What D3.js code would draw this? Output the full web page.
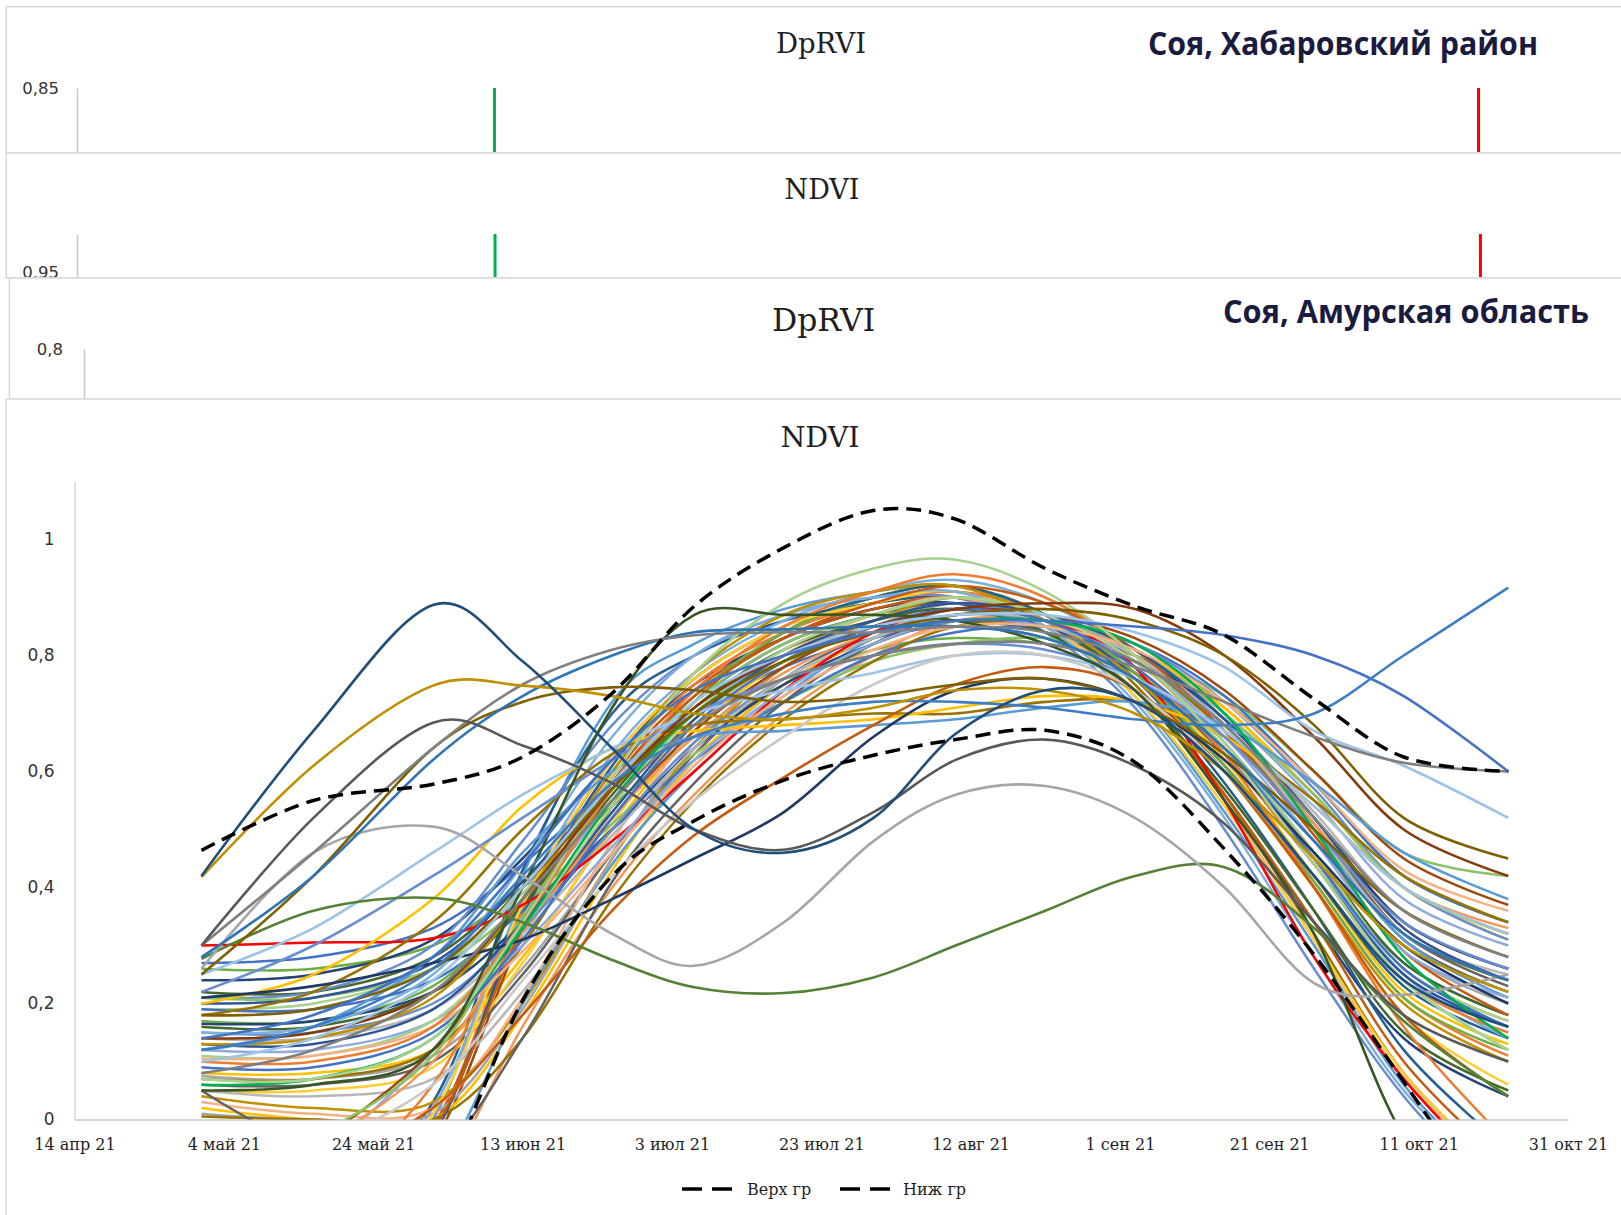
<!DOCTYPE html>
<html><head><meta charset="utf-8">
<script src="https://cdn.jsdelivr.net/npm/d3@7"></script>
<style>body{margin:0;background:#fff}svg{display:block}</style>
</head><body>
<svg id="c" width="1621" height="1215"></svg>
<script>
// ---------- DATA ----------
const sampleDates = ["2021-05-01","2021-05-16","2021-06-01","2021-06-13","2021-06-25","2021-07-06","2021-07-18","2021-07-30","2021-08-10","2021-08-22","2021-09-03","2021-09-15","2021-09-27","2021-10-09","2021-10-23"];
const tickDates = ["2021-04-14","2021-05-04","2021-05-24","2021-06-13","2021-07-03","2021-07-23","2021-08-12","2021-09-01","2021-09-21","2021-10-11","2021-10-31"];
const tickLabels = ["14 апр 21","4 май 21","24 май 21","13 июн 21","3 июл 21","23 июл 21","12 авг 21","1 сен 21","21 сен 21","11 окт 21","31 окт 21"];
const yTicks = [0,0.2,0.4,0.6,0.8,1];
const legendNames = ["Верх гр","Ниж гр"];

const upperBound = [0.464,0.55,0.578,0.625,0.735,0.885,0.986,1.05,1.035,0.95,0.885,0.835,0.725,0.625,0.60];
const lowerBound = [-0.6,-0.45,-0.14,0.205,0.42,0.515,0.585,0.628,0.655,0.671,0.616,0.466,0.284,0.065,-0.2];

const navyPeak     = [0.42,0.67,0.887,0.79,0.64,0.50,0.46,0.52,0.665,0.74,0.72,0.60,0.42,0.24,0.16];
const goldPlateau  = [0.418,0.61,0.748,0.748,0.73,0.70,0.69,0.71,0.74,0.74,0.70,0.60,0.45,0.30,0.22];
const darkGrayHump = [0.30,0.52,0.684,0.645,0.58,0.50,0.465,0.53,0.62,0.655,0.61,0.51,0.34,0.18,0.10];
const grayHigh     = [0.30,0.46,0.64,0.75,0.81,0.835,0.84,0.84,0.85,0.84,0.79,0.68,0.52,0.36,0.28];
const blueHigh     = [0.28,0.42,0.62,0.73,0.80,0.84,0.845,0.85,0.85,0.83,0.76,0.64,0.48,0.32,0.24];
const olivePlateau = [0.25,0.42,0.64,0.72,0.745,0.74,0.72,0.73,0.75,0.76,0.72,0.63,0.50,0.36,0.28];
const lightGrayDip = [0.26,0.46,0.505,0.42,0.32,0.265,0.34,0.48,0.56,0.575,0.52,0.40,0.235,0.215,0.25];
const greenLow     = [0.277,0.36,0.382,0.34,0.275,0.228,0.218,0.245,0.30,0.36,0.42,0.435,0.33,0.17,0.04];
const navyLow      = [0.21,0.23,0.27,0.31,0.38,0.45,0.53,0.66,0.74,0.76,0.72,0.62,0.46,0.30,0.20];
const brownLate    = [-0.1,-0.08,0.02,0.18,0.36,0.49,0.59,0.68,0.75,0.78,0.74,0.60,0.40,0.18,0.04];
const lightGrayLate= [-0.05,-0.04,0.06,0.24,0.42,0.55,0.66,0.75,0.80,0.80,0.74,0.60,0.42,0.24,0.12];
const brownHigh    = [0.14,0.15,0.22,0.38,0.57,0.71,0.80,0.85,0.88,0.89,0.88,0.80,0.66,0.50,0.42];
const oliveHigh    = [0.18,0.19,0.26,0.40,0.57,0.70,0.79,0.84,0.87,0.88,0.86,0.80,0.68,0.52,0.45];
const blueRise     = [0.12,0.16,0.26,0.42,0.58,0.66,0.70,0.72,0.72,0.71,0.69,0.68,0.70,0.80,0.917];
const grayEnd      = [0.08,0.12,0.22,0.38,0.55,0.68,0.76,0.80,0.82,0.82,0.78,0.72,0.66,0.615,0.60];
const blueEnd      = [0.14,0.18,0.28,0.44,0.62,0.74,0.80,0.84,0.86,0.86,0.85,0.835,0.80,0.73,0.60];
const lightBlueEnd = [0.10,0.14,0.24,0.40,0.58,0.72,0.80,0.85,0.87,0.87,0.84,0.78,0.67,0.61,0.52];
const redField     = [0.30,0.305,0.3125,0.37,0.48,0.60,0.74,0.84,0.88,0.86,0.78,0.55,0.28,0.07,-0.12];
const greenSteep   = [0.05,0.06,0.12,0.40,0.71,0.87,0.87,0.87,0.86,0.82,0.74,0.55,0.32,-0.03,-0.25];
const greenBright  = [0.06,0.07,0.14,0.33,0.55,0.70,0.79,0.84,0.86,0.86,0.82,0.70,0.50,0.28,0.14];
const lightGreenTop= [0.07,0.07,0.14,0.34,0.59,0.77,0.89,0.95,0.965,0.91,0.80,0.64,0.44,0.24,0.12];
const olivePlat2   = [0.18,0.22,0.34,0.50,0.63,0.68,0.69,0.70,0.70,0.72,0.72,0.66,0.55,0.42,0.34];
const goldPlat     = [0.20,0.25,0.38,0.54,0.64,0.67,0.68,0.69,0.71,0.73,0.72,0.66,0.54,0.40,0.32];
const lightBluePlat= [0.12,0.16,0.28,0.46,0.60,0.66,0.67,0.68,0.69,0.71,0.72,0.68,0.58,0.46,0.38];
const blueLinear   = [0.22,0.30,0.42,0.52,0.62,0.70,0.76,0.80,0.82,0.81,0.76,0.66,0.50,0.34,0.26];
const paleBlueLin  = [0.25,0.33,0.46,0.56,0.64,0.70,0.74,0.77,0.80,0.80,0.76,0.67,0.54,0.40,0.32];

// fields starting at higher NDVI, gradual rise
const fieldsUpper = [
 [0.27,0.28,0.33,0.44,0.58,0.70,0.78,0.83,0.85,0.83,0.76,0.63,0.45,0.27,0.18],
 [0.26,0.26,0.30,0.40,0.54,0.66,0.75,0.81,0.83,0.82,0.79,0.72,0.58,0.42,0.34],
 [0.24,0.25,0.31,0.45,0.62,0.75,0.83,0.88,0.89,0.84,0.74,0.56,0.34,0.14,0.04],
 [0.22,0.22,0.28,0.41,0.57,0.70,0.79,0.84,0.86,0.84,0.77,0.64,0.46,0.27,0.18],
 [0.21,0.22,0.30,0.48,0.68,0.80,0.87,0.90,0.90,0.84,0.71,0.50,0.26,0.04,-0.15],
 [0.21,0.21,0.26,0.37,0.51,0.63,0.72,0.79,0.82,0.83,0.80,0.73,0.60,0.46,0.42],
 [0.20,0.21,0.27,0.41,0.58,0.72,0.82,0.87,0.89,0.85,0.77,0.63,0.44,0.25,0.16],
 [0.19,0.20,0.26,0.39,0.55,0.69,0.79,0.85,0.88,0.86,0.80,0.68,0.50,0.32,0.24],
 [0.19,0.19,0.24,0.36,0.50,0.62,0.72,0.80,0.84,0.85,0.82,0.73,0.58,0.42,0.34],
 [0.17,0.17,0.23,0.38,0.57,0.73,0.84,0.90,0.92,0.87,0.77,0.61,0.41,0.21,0.12],
 [0.165,0.17,0.22,0.34,0.50,0.64,0.75,0.82,0.86,0.85,0.80,0.69,0.52,0.34,0.26],
 [0.16,0.16,0.22,0.37,0.56,0.71,0.81,0.86,0.88,0.84,0.74,0.57,0.36,0.15,0.05],
 [0.15,0.15,0.20,0.33,0.50,0.65,0.76,0.83,0.87,0.86,0.82,0.72,0.57,0.40,0.31],
 [0.15,0.16,0.25,0.44,0.66,0.80,0.87,0.90,0.91,0.85,0.72,0.52,0.28,0.05,-0.12],
 [0.14,0.14,0.19,0.32,0.49,0.64,0.76,0.83,0.87,0.86,0.80,0.68,0.50,0.32,0.25],
 [0.13,0.13,0.19,0.34,0.53,0.69,0.80,0.86,0.89,0.87,0.81,0.69,0.52,0.33,0.24],
 [0.13,0.14,0.21,0.38,0.60,0.77,0.87,0.91,0.92,0.86,0.76,0.60,0.40,0.20,0.10],
 [0.12,0.12,0.17,0.30,0.47,0.62,0.74,0.82,0.86,0.85,0.79,0.66,0.48,0.29,0.21],
 [0.11,0.11,0.17,0.33,0.54,0.70,0.81,0.87,0.90,0.87,0.79,0.65,0.46,0.26,0.17],
 [0.105,0.11,0.16,0.29,0.46,0.61,0.73,0.81,0.85,0.85,0.81,0.72,0.58,0.43,0.36],
 [0.10,0.10,0.16,0.34,0.57,0.74,0.85,0.91,0.94,0.90,0.80,0.63,0.40,0.16,-0.04],
 [0.09,0.09,0.15,0.31,0.52,0.68,0.79,0.85,0.88,0.86,0.78,0.64,0.45,0.26,0.16]
];
// fields starting near zero, flat in May
const fieldsLow = [
 [0.08,0.08,0.12,0.28,0.50,0.67,0.79,0.86,0.89,0.86,0.77,0.62,0.42,0.22,0.13],
 [0.075,0.07,0.11,0.26,0.46,0.62,0.75,0.83,0.87,0.86,0.81,0.71,0.56,0.40,0.32],
 [0.07,0.07,0.12,0.30,0.54,0.72,0.84,0.90,0.92,0.87,0.75,0.56,0.32,0.08,-0.1],
 [0.06,0.06,0.10,0.25,0.46,0.63,0.76,0.84,0.88,0.86,0.80,0.68,0.50,0.31,0.22],
 [0.05,0.05,0.09,0.27,0.51,0.69,0.81,0.87,0.90,0.86,0.76,0.60,0.40,0.18,0.06],
 [0.05,0.04,0.07,0.22,0.44,0.61,0.74,0.82,0.86,0.85,0.80,0.69,0.53,0.36,0.28],
 [0.04,0.02,0.03,0.20,0.45,0.64,0.78,0.86,0.90,0.87,0.79,0.65,0.46,0.26,0.17],
 [0.03,0.01,0.02,0.21,0.48,0.67,0.80,0.87,0.90,0.85,0.74,0.55,0.31,0.07,-0.1],
 [0.02,0.00,0.00,0.18,0.43,0.62,0.75,0.83,0.87,0.86,0.81,0.71,0.56,0.40,0.31],
 [0.01,0.00,0.01,0.19,0.45,0.65,0.78,0.85,0.89,0.87,0.80,0.67,0.49,0.29,0.20],
 [0.005,0.00,0.00,0.14,0.38,0.55,0.69,0.79,0.85,0.85,0.79,0.67,0.50,0.32,0.24],
 [0.05,-0.05,-0.06,0.14,0.41,0.58,0.72,0.82,0.87,0.86,0.80,0.68,0.51,0.32,0.23]
];
// fields emerging late (below zero in May), steep rise in June
const fieldsLate = [
 [-0.2,-0.25,-0.02,0.36,0.62,0.76,0.85,0.89,0.91,0.87,0.77,0.61,0.41,0.21,0.11],
 [-0.15,-0.2,0.0,0.42,0.72,0.82,0.88,0.91,0.92,0.86,0.73,0.53,0.30,0.06,-0.12],
 [-0.2,-0.22,-0.04,0.32,0.58,0.73,0.83,0.88,0.90,0.87,0.80,0.68,0.52,0.34,0.26],
 [-0.1,-0.15,0.03,0.43,0.70,0.80,0.86,0.89,0.90,0.85,0.76,0.61,0.42,0.23,0.14],
 [-0.3,-0.3,-0.12,0.16,0.40,0.56,0.70,0.80,0.86,0.86,0.81,0.71,0.56,0.40,0.33],
 [-0.2,-0.2,0.02,0.38,0.63,0.77,0.86,0.91,0.93,0.89,0.80,0.65,0.45,0.25,0.14],
 [-0.15,-0.18,-0.01,0.34,0.59,0.74,0.83,0.88,0.90,0.85,0.74,0.56,0.34,0.10,-0.08],
 [-0.1,-0.06,0.12,0.35,0.55,0.70,0.80,0.86,0.89,0.87,0.81,0.70,0.55,0.38,0.30],
 [-0.1,-0.12,0.06,0.36,0.60,0.75,0.84,0.89,0.91,0.87,0.78,0.63,0.44,0.24,0.15],
 [-0.3,-0.3,-0.1,0.20,0.44,0.60,0.73,0.83,0.88,0.87,0.81,0.68,0.50,0.31,0.21],
 [-0.12,-0.04,0.12,0.33,0.52,0.67,0.78,0.85,0.88,0.87,0.83,0.74,0.60,0.45,0.37],
 [-0.2,-0.24,-0.03,0.35,0.61,0.76,0.85,0.90,0.92,0.87,0.76,0.58,0.36,0.12,-0.05],
 [-0.15,-0.05,0.10,0.32,0.52,0.66,0.77,0.84,0.88,0.86,0.80,0.68,0.51,0.33,0.24],
 [-0.15,-0.17,0.01,0.37,0.62,0.76,0.85,0.89,0.91,0.85,0.73,0.54,0.31,0.08,-0.1],
 [-0.1,-0.03,0.11,0.35,0.57,0.72,0.82,0.87,0.90,0.87,0.81,0.70,0.56,0.40,0.32],
 [-0.2,-0.2,-0.02,0.33,0.58,0.73,0.83,0.89,0.92,0.89,0.81,0.67,0.49,0.29,0.18]
];

// mini panels (cropped charts above)
const miniAxisValue = [0.85, 0.95, 0.8];
const markerDates = ["2021-06-09","2021-10-19"];

// ---------- STYLE ----------
const palette = ["#ED7D31","#4472C4","#FFC000","#5B9BD5","#70AD47","#A5A5A5","#9E480E","#264478","#997300","#255E91","#43682B","#636363","#F1975A","#698ED0","#FFCD33","#7CAFDD","#8CC168","#B7B7B7","#C55A11","#2F5597","#BF9000","#8FAADC","#A9D18E","#F4B183"];
const outliers = [
 [olivePlat2,"#997300"],[goldPlat,"#FFC000"],[lightBluePlat,"#5B9BD5"],[blueLinear,"#698ED0"],[paleBlueLin,"#9DC3E6"],
 [brownLate,"#C55A11"],[lightGrayLate,"#C9C9C9"],[navyLow,"#203864"],[greenBright,"#00B050"],[lightGreenTop,"#A9D18E"],
 [brownHigh,"#843C0C"],[oliveHigh,"#7F6000"],
 [greenSteep,"#375623"],[lightBlueEnd,"#9DC3E6"],[grayEnd,"#7F7F7F"],[blueEnd,"#4472C4"],[blueRise,"#3C7DC4"],
 [greenLow,"#548235"],[lightGrayDip,"#A6A6A6"],[olivePlateau,"#7F6000"],[blueHigh,"#2E75B6"],[grayHigh,"#808080"],
 [darkGrayHump,"#595959"],[goldPlateau,"#BF9000"],[navyPeak,"#1F4E79"]
];

const W = 1621;
const svg = d3.select("#c");
const P = d3.utcParse("%Y-%m-%d");
const dates = sampleDates.map(P);
const border = "#d9d9d9";
const serif = "'DejaVu Serif', serif";
const sans = "'DejaVu Sans', sans-serif";
const fmt = v => String(v).replace(".", ",");

function panelRect(x0, y0, y1, id) {
  svg.append("rect").attr("x", x0).attr("y", y0).attr("width", W - x0 + 10).attr("height", y1 - y0)
    .attr("fill", "#fff").attr("stroke", border).attr("stroke-width", 1.5);
  svg.append("clipPath").attr("id", id).append("rect")
    .attr("x", x0 + 1).attr("y", y0 + 1).attr("width", W - x0).attr("height", y1 - y0 - 2);
  return svg.append("g").attr("clip-path", `url(#${id})`);
}
function title(g, txt, cx, base, size) {
  g.append("text").attr("x", cx).attr("y", base).attr("text-anchor", "middle")
    .attr("font-family", serif).attr("font-size", size).attr("fill", "#1f1f1f").text(txt);
}
function heading(g, txt, x0, x1, base) {
  g.append("text").attr("x", x0).attr("y", base).attr("font-family", "'Open Sans', sans-serif")
    .attr("font-weight", 700).attr("font-size", 32).attr("fill", "#1b1b40")
    .attr("textLength", x1 - x0).attr("lengthAdjust", "spacingAndGlyphs").text(txt);
}
function miniAxis(g, xs, ys, value, padding) {
  const ax = d3.axisLeft(ys).tickValues([value]).tickSize(0).tickSizeOuter(0).tickPadding(padding).tickFormat(fmt);
  const a = g.append("g").attr("transform", `translate(${xs.range()[0]},0)`).call(ax);
  a.select(".domain").attr("stroke", "#c8c8c8").attr("stroke-width", 1.5);
  a.selectAll("text").attr("font-family", sans).attr("font-size", 16.5).attr("fill", "#333");
}
function markers(g, xs, top, bot) {
  g.selectAll(null).data(markerDates.map(P)).join("line")
    .attr("x1", d => xs(d)).attr("x2", d => xs(d)).attr("y1", top).attr("y2", bot)
    .attr("stroke", (d, i) => i === 0 ? "#00B050" : "#FF0000").attr("stroke-width", 3);
}
const dom = [P("2021-04-14"), P("2021-10-31")];

// Panel 1: DpRVI, Khabarovsk
const g1 = panelRect(6.3, 6.7, 153, "p1");
const x1 = d3.scaleUtc().domain(dom).range([77, 1568]);
const y1 = d3.scaleLinear().domain([0.80, 0.85]).range([210, 88]);
title(g1, "DpRVI", 821, 53, 27.5);
heading(g1, "Соя, Хабаровский район", 1148, 1538, 55);
miniAxis(g1, x1, y1, miniAxisValue[0], 18);
markers(g1, x1, y1(0.85), 200);

// Panel 2: NDVI, Khabarovsk
const g2 = panelRect(6.3, 153, 278, "p2");
const x2 = d3.scaleUtc().domain(dom).range([77, 1570]);
const y2 = d3.scaleLinear().domain([0.90, 1.0]).range([310, 234]);
title(g2, "NDVI", 822, 199, 27);
miniAxis(g2, x2, y2, miniAxisValue[1], 18);
markers(g2, x2, y2(1.0), 300);

// Panel 3: DpRVI, Amur
const g3 = panelRect(9.4, 278, 399, "p3");
const x3 = d3.scaleUtc().domain(dom).range([84, 1575]);
const y3 = d3.scaleLinear().domain([0.75, 0.8]).range([460, 349]);
title(g3, "DpRVI", 823.5, 331, 31.5);
heading(g3, "Соя, Амурская область", 1223, 1589, 323);
miniAxis(g3, x3, y3, miniAxisValue[2], 21);

// Panel 4: main NDVI chart
const g4 = panelRect(6, 399, 1240, "p4");
title(g4, "NDVI", 820, 447, 28.5);
const x = d3.scaleUtc().domain(dom).range([74.5, 1568]);
const y = d3.scaleLinear().domain([0, 1.1]).range([1119.5, 481.5]);

svg.append("clipPath").attr("id", "plot").append("rect")
  .attr("x", x.range()[0]).attr("y", y.range()[1]).attr("width", x.range()[1] - x.range()[0]).attr("height", y.range()[0] - y.range()[1]);

const yAx = g4.append("g").attr("transform", `translate(${x.range()[0]},0)`)
  .call(d3.axisLeft(y).tickValues(yTicks).tickSize(0).tickSizeOuter(0).tickPadding(20).tickFormat(fmt));
yAx.select(".domain").attr("stroke", "#d9d9d9").attr("stroke-width", 1.5);
yAx.selectAll("text").attr("font-family", sans).attr("font-size", 17).attr("fill", "#333");

const xAx = g4.append("g").attr("transform", `translate(0,${y.range()[0]})`)
  .call(d3.axisBottom(x).tickValues(tickDates.map(P)).tickSize(0).tickSizeOuter(0).tickPadding(19)
    .tickFormat((d, i) => tickLabels[i]));
xAx.select(".domain").attr("stroke", "#c8c8c8").attr("stroke-width", 1.5);
xAx.selectAll("text").attr("font-family", serif).attr("font-size", 16).attr("fill", "#1f1f1f");

const line = d3.line().x((d, i) => x(dates[i])).y(d => y(d)).curve(d3.curveCardinal.tension(0));
const plot = g4.append("g").attr("clip-path", "url(#plot)");

// interleave the three field groups so colours mix; red field sits inside the bundle
const bundle = [];
const nMax = Math.max(fieldsUpper.length, fieldsLow.length, fieldsLate.length);
for (let i = 0; i < nMax; i++) {
  if (fieldsLate[i]) bundle.push([fieldsLate[i], null]);
  if (fieldsUpper[i]) bundle.push([fieldsUpper[i], null]);
  if (fieldsLow[i]) bundle.push([fieldsLow[i], null]);
  if (i === 14) bundle.push([redField, "#FF0000"]);
}
let ci = 0;
bundle.forEach(([vals, c]) => {
  const col = c || palette[ci++ % palette.length];
  plot.append("path").attr("d", line(vals)).attr("fill", "none")
    .attr("stroke", col).attr("stroke-width", 2.5).attr("stroke-linejoin", "round");
});
outliers.forEach(([vals, c]) => {
  plot.append("path").attr("d", line(vals)).attr("fill", "none")
    .attr("stroke", c).attr("stroke-width", 2.6).attr("stroke-linejoin", "round");
});
[upperBound, lowerBound].forEach(vals => {
  plot.append("path").attr("d", line(vals)).attr("fill", "none")
    .attr("stroke", "#000").attr("stroke-width", 3.5).attr("stroke-dasharray", "15,8");
});

// legend
const leg = g4.append("g");
[[682, 747], [840, 903]].forEach(([sx, tx], i) => {
  leg.append("line").attr("x1", sx).attr("x2", sx + 50).attr("y1", 1189).attr("y2", 1189)
    .attr("stroke", "#000").attr("stroke-width", 3.5).attr("stroke-dasharray", "20,10");
  leg.append("text").attr("x", tx).attr("y", 1189).attr("dy", "0.35em")
    .attr("font-family", serif).attr("font-size", 16).attr("fill", "#1f1f1f").text(legendNames[i]);
});
</script>
</body></html>
